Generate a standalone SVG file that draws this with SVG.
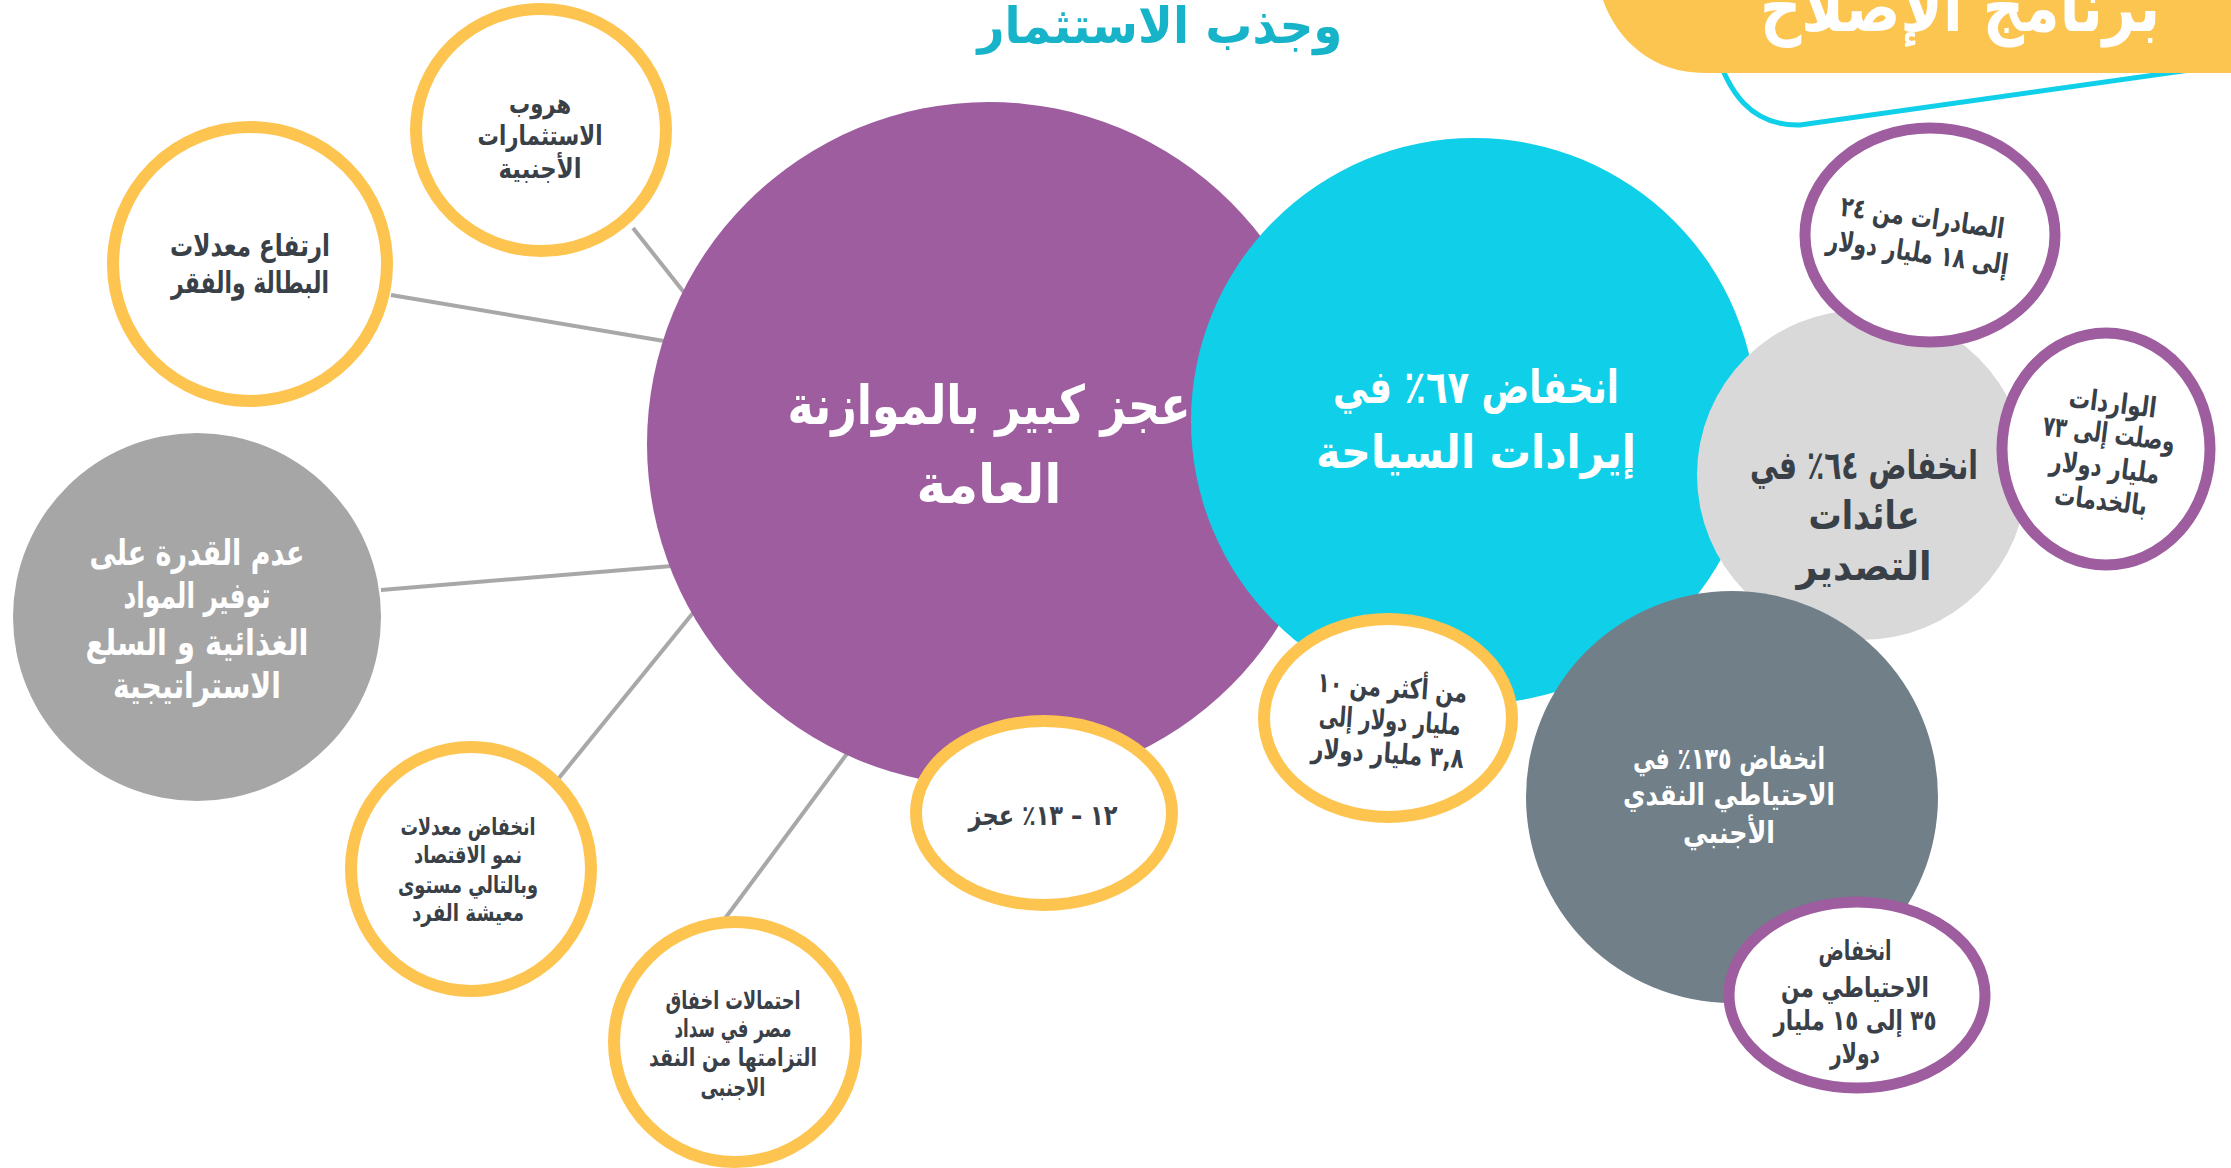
<svg xmlns="http://www.w3.org/2000/svg" width="2231" height="1168" viewBox="0 0 2231 1168">
<style>
.t{font-family:"DejaVu Sans",sans-serif;font-weight:bold;text-anchor:middle;direction:rtl;unicode-bidi:embed}
.dk{fill:#394047}
.wt{fill:#ffffff}
.yr{fill:#ffffff;stroke:#fdc450;stroke-width:12}
.pr{fill:#ffffff;stroke:#9d5d9f;stroke-width:11}
.cn{stroke:#a8a8a8;stroke-width:4;fill:none}
</style>
<rect width="2231" height="1168" fill="#ffffff"/>
<g id="header">
<path d="M1712,40 C1728,95 1752,126 1800,125 L2240,63" fill="none" stroke="#10cfe9" stroke-width="5"/>
<path d="M1705,73 C1652,73 1617,40 1603,0 L1600,-20 L2240,-20 L2240,73 Z" fill="#fcc54f"/>
<text class="t wt" x="1960" y="31" font-size="68" textLength="400" lengthAdjust="spacingAndGlyphs">برنامج الإصلاح</text>
</g>
<g id="title">
<text class="t" x="1160" y="43" font-size="50" fill="#16b3c9" textLength="365" lengthAdjust="spacingAndGlyphs">وجذب الاستثمار</text>
</g>
<g id="connectors">
<line class="cn" x1="633" y1="228" x2="690" y2="300"/>
<line class="cn" x1="391" y1="295" x2="670" y2="342"/>
<line class="cn" x1="381" y1="590" x2="672" y2="566"/>
<line class="cn" x1="559" y1="778" x2="697" y2="608"/>
<line class="cn" x1="718" y1="928" x2="849" y2="751"/>
</g>
<g id="node-food">
<circle cx="197" cy="617" r="184" fill="#a6a6a6"/>
<text class="t wt" font-size="36"><tspan x="197" y="565" textLength="215" lengthAdjust="spacingAndGlyphs">عدم القدرة على</tspan><tspan x="197" y="608" textLength="147" lengthAdjust="spacingAndGlyphs">توفير المواد</tspan><tspan x="197" y="655" textLength="223" lengthAdjust="spacingAndGlyphs">الغذائية و السلع</tspan><tspan x="197" y="698" textLength="168" lengthAdjust="spacingAndGlyphs">الاستراتيجية</tspan></text>
</g>
<g id="node-invest">
<ellipse class="yr" cx="541" cy="130" rx="125" ry="121"/>
<text class="t dk" font-size="27"><tspan x="540" y="113" textLength="62" lengthAdjust="spacingAndGlyphs">هروب</tspan><tspan x="540" y="145" textLength="125" lengthAdjust="spacingAndGlyphs">الاستثمارات</tspan><tspan x="540" y="178" textLength="83" lengthAdjust="spacingAndGlyphs">الأجنبية</tspan></text>
</g>
<g id="node-unemployment">
<ellipse class="yr" cx="250" cy="264" rx="137" ry="137"/>
<text class="t dk" font-size="30"><tspan x="250" y="256" textLength="160" lengthAdjust="spacingAndGlyphs">ارتفاع معدلات</tspan><tspan x="250" y="293" textLength="158" lengthAdjust="spacingAndGlyphs">البطالة والفقر</tspan></text>
</g>
<g id="node-growth">
<ellipse class="yr" cx="471" cy="869" rx="120" ry="122"/>
<text class="t dk" font-size="24"><tspan x="468" y="835" textLength="135" lengthAdjust="spacingAndGlyphs">انخفاض معدلات</tspan><tspan x="468" y="863" textLength="108" lengthAdjust="spacingAndGlyphs">نمو الاقتصاد</tspan><tspan x="468" y="893" textLength="140" lengthAdjust="spacingAndGlyphs">وبالتالي مستوى</tspan><tspan x="468" y="921" textLength="112" lengthAdjust="spacingAndGlyphs">معيشة الفرد</tspan></text>
</g>
<g id="node-default">
<ellipse class="yr" cx="735" cy="1042" rx="121" ry="120"/>
<text class="t dk" font-size="25"><tspan x="733" y="1009" textLength="135" lengthAdjust="spacingAndGlyphs">احتمالات اخفاق</tspan><tspan x="733" y="1037" textLength="117" lengthAdjust="spacingAndGlyphs">مصر في سداد</tspan><tspan x="733" y="1066" textLength="168" lengthAdjust="spacingAndGlyphs">التزامتها من النقد</tspan><tspan x="733" y="1096" textLength="65" lengthAdjust="spacingAndGlyphs">الاجنبى</tspan></text>
</g>
<g id="node-budget">
<circle cx="989" cy="444" r="342" fill="#9d5d9f"/>
</g>
<g id="node-tourism">
<circle cx="1474" cy="421" r="283" fill="#10cfe9"/>
</g>
<g id="node-export">
<circle cx="1862" cy="475" r="165" fill="#d9d9d9"/>
</g>
<g id="node-reserve">
<circle cx="1732" cy="797" r="206" fill="#707f88"/>
</g>
<g id="labels-main">
<text class="t wt" font-size="54"><tspan x="989" y="424" textLength="403" lengthAdjust="spacingAndGlyphs">عجز كبير بالموازنة</tspan><tspan x="989" y="503" textLength="145" lengthAdjust="spacingAndGlyphs">العامة</tspan></text>
<text class="t wt" font-size="46"><tspan x="1476" y="403" textLength="286" lengthAdjust="spacingAndGlyphs">انخفاض ٦٧٪ في</tspan><tspan x="1476" y="468" textLength="320" lengthAdjust="spacingAndGlyphs">إيرادات السياحة</tspan></text>
<text class="t dk" font-size="40"><tspan x="1864" y="479" textLength="228" lengthAdjust="spacingAndGlyphs">انخفاض ٦٤٪ في</tspan><tspan x="1864" y="529" textLength="111" lengthAdjust="spacingAndGlyphs">عائدات</tspan><tspan x="1864" y="580" textLength="135" lengthAdjust="spacingAndGlyphs">التصدير</tspan></text>
<text class="t wt" font-size="30"><tspan x="1729" y="769" textLength="192" lengthAdjust="spacingAndGlyphs">انخفاض ١٣٥٪ في</tspan><tspan x="1729" y="805" textLength="212" lengthAdjust="spacingAndGlyphs">الاحتياطي النقدي</tspan><tspan x="1729" y="843" textLength="92" lengthAdjust="spacingAndGlyphs">الأجنبي</tspan></text>
</g>
<g id="node-deficit">
<ellipse class="yr" cx="1044" cy="813" rx="128" ry="92"/>
<text class="t dk" font-size="28" x="1043" y="825" textLength="149" lengthAdjust="spacingAndGlyphs">١٢ – ١٣٪ عجز</text>
</g>
<g id="node-tourism-value">
<ellipse class="yr" cx="1388" cy="718" rx="124" ry="99"/>
<text class="t dk" font-size="28" transform="rotate(4 1390 720)"><tspan x="1390" y="697" textLength="150" lengthAdjust="spacingAndGlyphs">من أكثر من ١٠</tspan><tspan x="1390" y="730" textLength="142" lengthAdjust="spacingAndGlyphs">مليار دولار إلى</tspan><tspan x="1390" y="763" textLength="153" lengthAdjust="spacingAndGlyphs">٣,٨ مليار دولار</tspan></text>
</g>
<g id="node-exports-value">
<ellipse class="pr" cx="1930" cy="235" rx="125" ry="107"/>
<text class="t dk" font-size="28" transform="rotate(8 1920 235)"><tspan x="1920" y="227" textLength="165" lengthAdjust="spacingAndGlyphs">الصادرات من ٢٤</tspan><tspan x="1920" y="262" textLength="183" lengthAdjust="spacingAndGlyphs">إلى ١٨ مليار دولار</tspan></text>
</g>
<g id="node-imports">
<ellipse class="pr" cx="2106" cy="449" rx="104" ry="116"/>
<text class="t dk" font-size="28" transform="rotate(7 2107 450)"><tspan x="2107" y="412" textLength="88" lengthAdjust="spacingAndGlyphs">الواردات</tspan><tspan x="2107" y="443" textLength="133" lengthAdjust="spacingAndGlyphs">وصلت إلى ٧٣</tspan><tspan x="2107" y="477" textLength="110" lengthAdjust="spacingAndGlyphs">مليار دولار</tspan><tspan x="2107" y="510" textLength="93" lengthAdjust="spacingAndGlyphs">بالخدمات</tspan></text>
</g>
<g id="node-reserve-value">
<ellipse class="pr" cx="1857" cy="995" rx="128" ry="93"/>
<text class="t dk" font-size="28"><tspan x="1855" y="960" textLength="73" lengthAdjust="spacingAndGlyphs">انخفاض</tspan><tspan x="1855" y="997" textLength="148" lengthAdjust="spacingAndGlyphs">الاحتياطي من</tspan><tspan x="1855" y="1030" textLength="163" lengthAdjust="spacingAndGlyphs">٣٥ إلى ١٥ مليار</tspan><tspan x="1855" y="1063" textLength="50" lengthAdjust="spacingAndGlyphs">دولار</tspan></text>
</g>
</svg>
